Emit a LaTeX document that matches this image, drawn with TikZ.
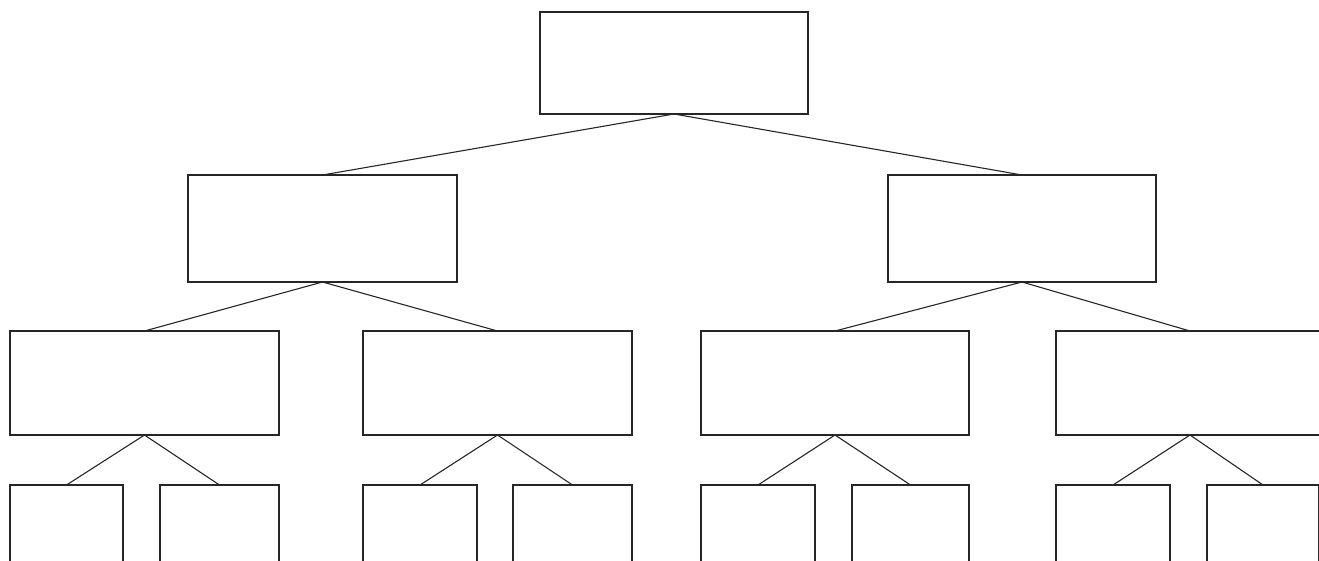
\documentclass[tikz,border=0pt]{standalone}
\begin{document}
\begin{tikzpicture}[x=1pt,y=-1pt,
  box/.style={draw=black!85,line width=1.3pt,rectangle,inner sep=0pt,outer sep=0pt,anchor=north west},
  link/.style={draw=black!85,line width=1.1pt}]
\useasboundingbox (0,0) rectangle (1319,560);
\clip (0,0) rectangle (1319,560);
% level 1
\node[box,minimum width=268pt,minimum height=102pt] (r) at (540,12) {};
% level 2
\node[box,minimum width=269pt,minimum height=107pt] (a) at (188,175) {};
\node[box,minimum width=268pt,minimum height=107pt] (b) at (888,175) {};
% level 3
\node[box,minimum width=269pt,minimum height=104pt] (a1) at (10,331) {};
\node[box,minimum width=269pt,minimum height=104pt] (a2) at (363,331) {};
\node[box,minimum width=268pt,minimum height=104pt] (b1) at (701,331) {};
\node[box,minimum width=268pt,minimum height=104pt] (b2) at (1056,331) {};
% level 4
\node[box,minimum width=113pt,minimum height=120pt] (a11) at (10,485) {};
\node[box,minimum width=119pt,minimum height=120pt] (a12) at (160,485) {};
\node[box,minimum width=114pt,minimum height=120pt] (a21) at (363,485) {};
\node[box,minimum width=119pt,minimum height=120pt] (a22) at (513,485) {};
\node[box,minimum width=114pt,minimum height=120pt] (b11) at (701,485) {};
\node[box,minimum width=117pt,minimum height=120pt] (b12) at (852,485) {};
\node[box,minimum width=114pt,minimum height=120pt] (b21) at (1056,485) {};
\node[box,minimum width=112pt,minimum height=120pt] (b22) at (1207,485) {};
% connectors
\draw[link] (r.south) -- (a.north);
\draw[link] (r.south) -- (b.north);
\draw[link] (a.south) -- (a1.north);
\draw[link] (a.south) -- (a2.north);
\draw[link] (b.south) -- (b1.north);
\draw[link] (b.south) -- (b2.north);
\draw[link] (a1.south) -- (a11.north);
\draw[link] (a1.south) -- (a12.north);
\draw[link] (a2.south) -- (a21.north);
\draw[link] (a2.south) -- (a22.north);
\draw[link] (b1.south) -- (b11.north);
\draw[link] (b1.south) -- (b12.north);
\draw[link] (b2.south) -- (b21.north);
\draw[link] (b2.south) -- (b22.north);
\end{tikzpicture}
\end{document}
